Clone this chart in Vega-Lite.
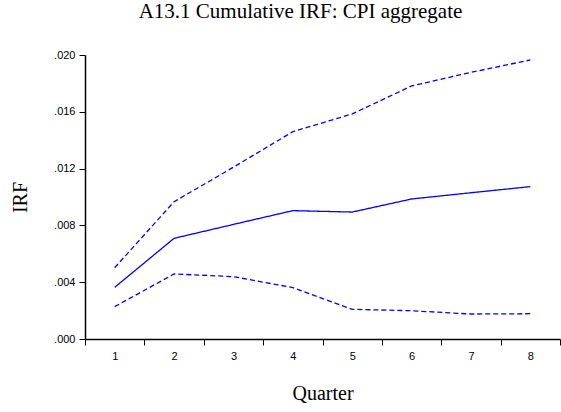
{
  "$schema": "https://vega.github.io/schema/vega-lite/v6.json",
  "autosize": {"type": "none"},
  "width": 475,
  "height": 284,
  "padding": {"left": 85, "top": 55, "right": 1, "bottom": 73},
  "background": "white",
  "title": {
    "text": "A13.1 Cumulative IRF: CPI aggregate",
    "font": "Liberation Serif",
    "fontSize": 21,
    "fontWeight": "normal",
    "color": "black",
    "anchor": "middle",
    "dx": -22,
    "baseline": "alphabetic",
    "offset": 10
  },
  "data": {
    "values": [
      {"quarter": 1, "series": "IRF", "value": 0.00364},
      {"quarter": 2, "series": "IRF", "value": 0.00709},
      {"quarter": 3, "series": "IRF", "value": 0.00807},
      {"quarter": 4, "series": "IRF", "value": 0.00904},
      {"quarter": 5, "series": "IRF", "value": 0.00894},
      {"quarter": 6, "series": "IRF", "value": 0.00986},
      {"quarter": 7, "series": "IRF", "value": 0.0103},
      {"quarter": 8, "series": "IRF", "value": 0.01073},
      {"quarter": 1, "series": "Upper", "value": 0.00502},
      {"quarter": 2, "series": "Upper", "value": 0.00967},
      {"quarter": 3, "series": "Upper", "value": 0.0121},
      {"quarter": 4, "series": "Upper", "value": 0.0146},
      {"quarter": 5, "series": "Upper", "value": 0.01585},
      {"quarter": 6, "series": "Upper", "value": 0.01782},
      {"quarter": 7, "series": "Upper", "value": 0.01878},
      {"quarter": 8, "series": "Upper", "value": 0.01965},
      {"quarter": 1, "series": "Lower", "value": 0.00228},
      {"quarter": 2, "series": "Lower", "value": 0.00458},
      {"quarter": 3, "series": "Lower", "value": 0.00439},
      {"quarter": 4, "series": "Lower", "value": 0.00362},
      {"quarter": 5, "series": "Lower", "value": 0.00209},
      {"quarter": 6, "series": "Lower", "value": 0.00199},
      {"quarter": 7, "series": "Lower", "value": 0.00176},
      {"quarter": 8, "series": "Lower", "value": 0.00178}
    ]
  },
  "mark": {"type": "line", "color": "#0000ff", "strokeWidth": 1.3},
  "encoding": {
    "x": {
      "field": "quarter",
      "type": "ordinal",
      "scale": {"paddingInner": 0, "paddingOuter": 0},
      "axis": {
        "title": "Quarter",
        "titleFont": "Liberation Serif",
        "titleFontSize": 20,
        "titleFontWeight": "normal",
        "titleColor": "black",
        "titleBaseline": "middle",
        "titleY": 54,
        "labelAngle": 0,
        "labelFont": "Liberation Sans",
        "labelFontSize": 11,
        "labelColor": "black",
        "labelPadding": 5,
        "tickBand": "extent",
        "tickSize": 6,
        "tickColor": "black",
        "domainColor": "black",
        "domainWidth": 1.5,
        "tickWidth": 1,
        "grid": false
      }
    },
    "y": {
      "field": "value",
      "type": "quantitative",
      "scale": {"domain": [0, 0.02], "nice": false, "zero": true},
      "axis": {
        "title": "IRF",
        "titleFont": "Liberation Serif",
        "titleFontSize": 20,
        "titleFontWeight": "normal",
        "titleColor": "black",
        "titleAngle": -90,
        "titleAlign": "center",
        "titleBaseline": "middle",
        "titleX": -65,
        "titleY": 142,
        "values": [0, 0.004, 0.008, 0.012, 0.016, 0.02],
        "labelExpr": "replace(format(datum.value, '.3f'), '0.', '.')",
        "labelFont": "Liberation Sans",
        "labelFontSize": 11,
        "labelColor": "black",
        "labelPadding": 4,
        "tickSize": 6,
        "tickColor": "black",
        "domainColor": "black",
        "domainWidth": 1.5,
        "grid": false
      }
    },
    "detail": {"field": "series"},
    "strokeDash": {
      "field": "series",
      "type": "nominal",
      "scale": {"domain": ["IRF", "Upper", "Lower"], "range": [[1, 0], [5, 3], [5, 3]]},
      "legend": null
    }
  },
  "config": {"view": {"stroke": null}}
}
